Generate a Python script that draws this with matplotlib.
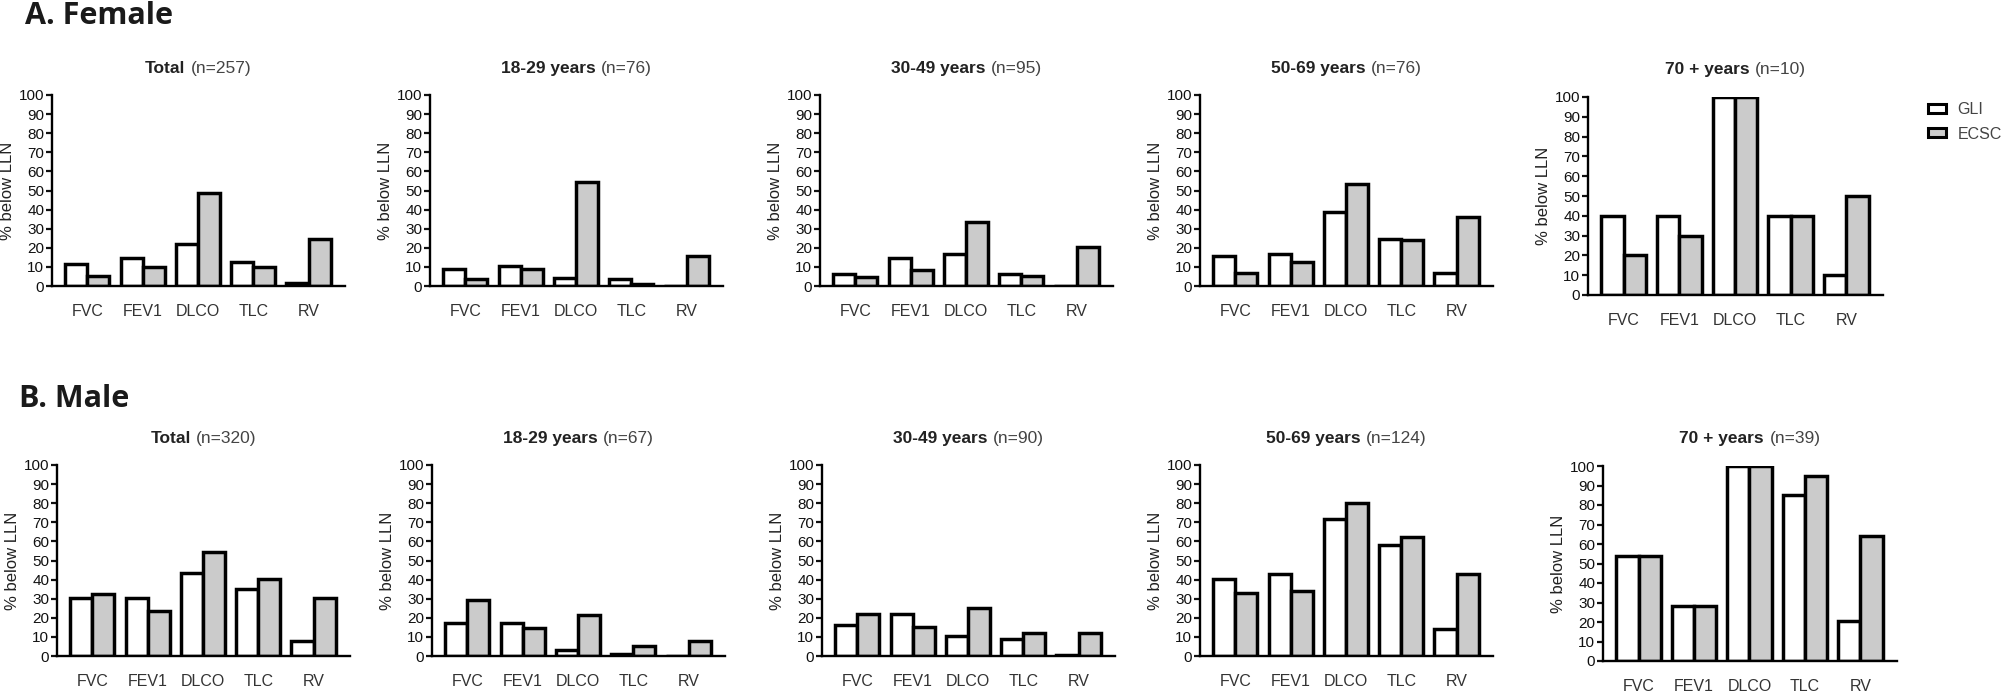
import matplotlib.pyplot as plt
import numpy as np
from matplotlib.patches import Patch
from matplotlib.offsetbox import TextArea, HPacker, AnchoredOffsetbox

plt.rcParams['font.family'] = ['Liberation Sans', 'DejaVu Sans']

tests = ['FVC', 'FEV1', 'DLCO', 'TLC', 'RV']
groups = ['Total', '18-29 years', '30-49 years', '50-69 years', '70 + years']

female_n = [257, 76, 95, 76, 10]
female_gli = [
    [11.7, 14.4, 22.2, 12.5, 1.6],
    [8.7, 10.6, 4.4, 3.8, 0.0],
    [6.5, 14.7, 16.6, 6.5, 0.0],
    [15.7, 16.9, 38.6, 24.4, 6.8],
    [40.0, 40.0, 100.0, 40.0, 10.0],
]
female_ecsc = [
    [5.4, 10.1, 48.6, 10.1, 24.5],
    [3.8, 8.7, 54.6, 1.0, 15.9],
    [4.5, 8.2, 33.5, 5.4, 20.4],
    [6.8, 12.7, 53.4, 23.9, 36.0],
    [20.0, 30.0, 100.0, 40.0, 50.0],
]

male_n = [320, 67, 90, 124, 39]
male_gli = [
    [30.2, 30.2, 43.5, 35.1, 8.0],
    [17.3, 17.3, 3.3, 0.8, 0.0],
    [16.1, 22.2, 10.3, 9.1, 0.5],
    [40.1, 43.1, 71.9, 58.1, 14.1],
    [53.8, 28.2, 100.0, 85.3, 20.5],
]
male_ecsc = [
    [32.3, 23.4, 54.3, 40.1, 30.2],
    [29.1, 14.5, 21.5, 5.2, 8.0],
    [22.2, 15.0, 25.1, 12.2, 12.2],
    [33.2, 34.2, 80.3, 62.1, 43.1],
    [53.8, 28.2, 100.0, 94.9, 64.1],
]

W, H = 2008, 691
fig = plt.figure(figsize=(W / 100, H / 100), dpi=100)

# panel boxes in pixels: left, top, right, bottom
female_boxes = [(52, 95, 345, 286), (430, 95, 723, 286), (820, 95, 1113, 286),
                (1200, 95, 1493, 286), (1588, 97, 1883, 295)]
male_boxes = [(57, 465, 350, 656), (432, 465, 725, 656), (822, 465, 1115, 656),
              (1200, 465, 1493, 656), (1603, 466, 1897, 661)]

grey = '#cbcbcb'
w = 0.4
x = np.arange(len(tests))


def panel(box, group, n, gli, ecsc):
    l, t, r, b = box
    ax = fig.add_axes([l / W, 1 - b / H, (r - l) / W, (b - t) / H])
    ax.bar(x - w / 2, gli, w, color='white', edgecolor='black', linewidth=2.5)
    ax.bar(x + w / 2, ecsc, w, color=grey, edgecolor='black', linewidth=2.5)
    ax.set_ylim(0, 100)
    ax.set_xlim(-0.64, 4.66)
    ax.set_yticks(np.arange(0, 101, 10))
    ax.set_xticks(x)
    ax.set_xticklabels(tests, fontsize=11.5, color='#333333')
    ax.tick_params(axis='x', length=0, pad=13)
    ax.tick_params(axis='y', length=4, width=1.6, labelsize=11, pad=1.5, colors='#111111')
    for s in ['top', 'right']:
        ax.spines[s].set_visible(False)
    for s in ['left', 'bottom']:
        ax.spines[s].set_linewidth(1.7)
    ax.set_ylabel('% below LLN', fontsize=12, labelpad=3, color='#222222')
    bold = TextArea(group, textprops=dict(fontsize=12.5, fontweight='bold', color='#222222'))
    reg = TextArea(f'(n={n})', textprops=dict(fontsize=12.5, color='#444444'))
    box_t = HPacker(children=[bold, reg], pad=0, sep=4, align='baseline')
    anc = AnchoredOffsetbox(loc='lower center', child=box_t, pad=0, frameon=False,
                            bbox_to_anchor=(0.5, 1.1), bbox_transform=ax.transAxes,
                            borderpad=0)
    ax.add_artist(anc)
    return ax


for i in range(5):
    panel(female_boxes[i], groups[i], female_n[i], female_gli[i], female_ecsc[i])
    panel(male_boxes[i], groups[i], male_n[i], male_gli[i], male_ecsc[i])

fig.text(25 / W, 1 - 16 / H, 'A. Female', fontsize=22, fontweight='bold',
         family=['Open Sans', 'DejaVu Sans'], va='center', ha='left', color='#1a1a1a')
fig.text(19 / W, 1 - 399 / H, 'B. Male', fontsize=22, fontweight='bold',
         family=['Open Sans', 'DejaVu Sans'], va='center', ha='left', color='#1a1a1a')

handles = [Patch(facecolor='white', edgecolor='black', linewidth=2.2),
           Patch(facecolor=grey, edgecolor='black', linewidth=2.2)]
leg = fig.legend(handles, ['GLI', 'ECSC'], loc='upper left',
                 bbox_to_anchor=(1928 / W, 1 - 102 / H), frameon=False,
                 fontsize=11.5, handlelength=1.15, handleheight=0.5,
                 handletextpad=0.7, labelspacing=0.6, borderpad=0, borderaxespad=0)
for txt in leg.get_texts():
    txt.set_color('#444444')

fig.savefig('out.png', dpi=100)
